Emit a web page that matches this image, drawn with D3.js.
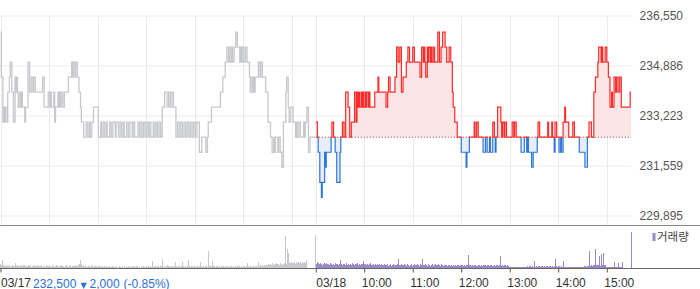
<!DOCTYPE html>
<html>
<head>
<meta charset="utf-8">
<script src="https://cdn.jsdelivr.net/npm/d3@7"></script>
<style>
  body { margin: 0; background: #fff; }
  svg { display: block; font-family: "Liberation Sans", Arial, sans-serif; }
</style>
</head>
<body>
<svg id="chart" width="700" height="289"></svg>
<script>
// ---- data ----
const prevClose = 232500;
const priceTicks = [229895, 231559, 233223, 234886, 236550];
const dayLabels = ['03/17', '03/18'];
const hourLabels = ['10:00', '11:00', '12:00', '13:00', '14:00', '15:00'];
const lastPrice = '232,500';
const lastChange = '2,000';
const lastRate = '(-0.85%)';

// [분(09:00 기준), 가격] : 가격이 바뀌는 시점
const steps0317 = [[0,236000],[1,234500],[3,233000],[4,233500],[5,233000],[6,233500],[8,233000],[9,234000],[11,234500],[12,235000],[14,234000],[16,233000],[18,234500],[19,234000],[20,234500],[21,234000],[22,233500],[24,234000],[25,233500],[26,234000],[27,233500],[30,233000],[31,233500],[34,235000],[36,234000],[38,234500],[40,234000],[41,234500],[43,234000],[52,234500],[54,233500],[59,234000],[61,233500],[62,234000],[63,233500],[66,234000],[67,233000],[68,233500],[71,234000],[72,233500],[73,234000],[74,233500],[75,234000],[77,233500],[79,234000],[84,234500],[88,235000],[89,234500],[90,235000],[92,234500],[93,235000],[95,234500],[97,234000],[99,233500],[100,233000],[103,232500],[106,233000],[108,232500],[110,233000],[111,232500],[113,233000],[115,233500],[121,232500],[124,233000],[125,232500],[127,233000],[129,232500],[131,233000],[132,232500],[135,233000],[137,232500],[139,233000],[142,232500],[143,233000],[146,232500],[148,233000],[150,232500],[152,233000],[153,232500],[156,233000],[158,232500],[160,233000],[163,232500],[164,233000],[166,232500],[170,233000],[172,232500],[174,233000],[175,232500],[177,233000],[179,232500],[181,233000],[183,232500],[184,233000],[186,232500],[189,233000],[190,232500],[192,233000],[194,232500],[196,233000],[198,232500],[200,233500],[203,234000],[206,233500],[208,234000],[210,233500],[212,234000],[214,233500],[217,232500],[219,233000],[221,232500],[223,233000],[225,232500],[227,233000],[229,232500],[231,233000],[233,232500],[235,233000],[237,232500],[239,233000],[241,232500],[243,233000],[246,232000],[249,232500],[254,232000],[256,232500],[257,233000],[261,233500],[272,234000],[275,234500],[278,235000],[280,235500],[282,235000],[283,235500],[284,235000],[286,235500],[287,235000],[289,235500],[291,236000],[293,235500],[296,235000],[297,235500],[298,235000],[299,235500],[301,235000],[303,235500],[305,235000],[308,234500],[309,234000],[310,234500],[312,234000],[313,234500],[314,234000],[315,234500],[319,235000],[321,234500],[322,235000],[324,234500],[328,234000],[331,233000],[334,232500],[336,232000],[338,232500],[339,232000],[340,232500],[343,232000],[344,232500],[346,232000],[348,231500],[350,233000],[353,234000],[354,234500],[356,233500],[357,233000],[359,233500],[362,233000],[365,232500],[366,233000],[367,232500],[369,233000],[371,232500],[375,233000],[376,232500],[377,233000],[379,233500],[381,232000],[383,232500],[390,232500]];

const steps0318 = [[0,233000],[2,232500],[3,232000],[5,231000],[7,230500],[8,231000],[11,232000],[12,231500],[13,232000],[19,232500],[20,233000],[22,232500],[24,232000],[26,231000],[30,232000],[31,232500],[33,233000],[35,232500],[37,234000],[40,233500],[42,232500],[44,233000],[48,234000],[50,233000],[51,234000],[52,233500],[53,234000],[54,233500],[56,234000],[57,233500],[58,234000],[59,233500],[61,234000],[62,233500],[63,234000],[65,233500],[66,234000],[67,233500],[73,234000],[77,234500],[78,234000],[87,233500],[89,234000],[90,234500],[92,234000],[98,234500],[100,235500],[102,235000],[104,235500],[106,234000],[108,234500],[112,235000],[114,235500],[116,235000],[120,235500],[122,235000],[129,234500],[131,235500],[133,235000],[134,235500],[135,235000],[136,234500],[138,235500],[139,235000],[140,235500],[142,235000],[143,235500],[144,235000],[146,235500],[147,235000],[151,236000],[153,235000],[155,235500],[157,236000],[160,235500],[162,235000],[165,235500],[167,235000],[169,234000],[170,233500],[172,233000],[175,232500],[180,232000],[186,231500],[187,232000],[190,232500],[196,233000],[197,232500],[199,233000],[201,232500],[207,232000],[210,232500],[212,232000],[215,232500],[216,232000],[219,233000],[221,232500],[222,232000],[223,232500],[225,233500],[229,233000],[230,232500],[231,233000],[233,232500],[234,233000],[236,232500],[243,233000],[245,232500],[246,233000],[248,232500],[254,232000],[258,232500],[261,232000],[262,232500],[263,232000],[267,231500],[269,232000],[274,232500],[275,233000],[277,232500],[287,233000],[288,232500],[292,233000],[293,232500],[295,232000],[296,233000],[298,232500],[301,232000],[303,232500],[304,232000],[306,233000],[308,233500],[309,233000],[313,232500],[318,233000],[320,232500],[326,232000],[333,231500],[336,232500],[338,233000],[341,232500],[344,234000],[346,234500],[349,235000],[350,235500],[353,235000],[354,235500],[355,235000],[358,235500],[360,235000],[362,234500],[364,233500],[366,234000],[367,233500],[369,234500],[371,234000],[372,234500],[374,234000],[376,234500],[378,233500],[389,234000],[390,234000]];

// 분당 거래량 (36진수 한 글자 = 1분), 마지막 값은 15:30 종가 단일가
const volume0317 = ('4382322322 2312232252 2322123232 3221232312 2232213222 2312221322 2221322123 2312223221 2232122312 2213223248 ' +
  '4223122212 2122312212 1221212112 1210121121 2112101211 1201211121 1112012121 2110121211 1212112171 2121212122 ' +
  '9212121322 1212126121 2121260212 1208212121 2121212612 1212121h21 2272121212 1212122121 2121212121 1212212121 ' +
  '2121215212 1212121216 2232322323 3443434534 4354434543 45w54jf545 6545646556 5645656580 0000000000');
const volume0318 = ('5463545434 3545434353 4343534434 8343434353 3434353434 4353434347 4343434353 3423432434 3432343234 2343234323 ' +
  '3493234323 4323432343 2343234323 4393234323 4323432343 2343234323 3232323232 2323232323 323232323d 3232323232 ' +
  '2323232323 3232323232 23232323c3 2323232322 1111111111 1111111111 1121212121 7212121212 1212121212 1212129121 ' +
  '2121217111 1111111111 1111111111 112121212h 232323j323 3c23e3f323 1111111116 1111151116 0000000000');
const closeVolume = [33, 36];

// ---- layout ----
const SESSION = 390;
const svg = d3.select('#chart');
const x = d3.scaleLinear().domain([0, 2 * SESSION]).range([0.5, 631]);
const y = d3.scaleLinear().domain([priceTicks[0], priceTicks[priceTicks.length - 1]]).range([215.5, 15.5]);
const yv = d3.scaleLinear().domain([0, 42]).range([268, 226]);
const baseY = y(prevClose);

const up = '#ff2b2b', down = '#2c74d8', grey = '#c6c8cc', purple = '#9c88c8';

// 가로 그리드 + 가격 라벨
const yAxis = svg.append('g')
  .attr('transform', 'translate(631,0)')
  .call(d3.axisLeft(y).tickValues(priceTicks).tickSize(631).tickFormat(d3.format(',')));
yAxis.select('.domain').remove();
yAxis.selectAll('line').attr('stroke', '#ebebeb');
yAxis.selectAll('text')
  .attr('x', 52).attr('text-anchor', 'end')
  .attr('fill', '#555').style('font-size', '12px');

// 세로 그리드 (매 시 정각)
const hours = d3.range(2).flatMap(d => d3.range(7).map(h => d * SESSION + h * 60));
svg.append('g').selectAll('line').data(hours).join('line')
  .attr('x1', d => Math.round(x(d)) + 0.5).attr('x2', d => Math.round(x(d)) + 0.5)
  .attr('y1', y.range()[1]).attr('y2', 225)
  .attr('stroke', '#ebebeb');

// 03/17 가격선
const toPts = (steps, day) => steps.map(([m, p]) => [day * SESSION + m, p]);
const line = d3.line().curve(d3.curveStepAfter).x(d => x(d[0])).y(d => y(d[1]));
const area = d3.area().curve(d3.curveStepAfter).x(d => x(d[0])).y0(baseY).y1(d => y(d[1]));

svg.append('path').datum(toPts(steps0317, 0))
  .attr('d', line).attr('fill', 'none')
  .attr('stroke', grey).attr('stroke-width', 1.3);

// 03/18 가격선 (기준가 위 빨강, 아래 파랑)
const defs = svg.append('defs');
defs.append('clipPath').attr('id', 'clipUp').append('rect')
  .attr('x', 0).attr('y', 0).attr('width', 700).attr('height', baseY + 0.8);
defs.append('clipPath').attr('id', 'clipDown').append('rect')
  .attr('x', 0).attr('y', baseY + 0.8).attr('width', 700).attr('height', 225 - baseY);

const pts0318 = toPts(steps0318, 1);
svg.append('path').datum(pts0318).attr('d', area)
  .attr('fill', '#fde5e6').attr('clip-path', 'url(#clipUp)');
svg.append('path').datum(pts0318).attr('d', area)
  .attr('fill', '#e6eefb').attr('clip-path', 'url(#clipDown)');

svg.append('line')
  .attr('x1', x(SESSION)).attr('x2', 631)
  .attr('y1', baseY).attr('y2', baseY)
  .attr('stroke', '#555').attr('stroke-dasharray', '1,2');

svg.append('path').datum(pts0318).attr('d', line)
  .attr('fill', 'none').attr('stroke', up).attr('stroke-width', 1.2)
  .attr('clip-path', 'url(#clipUp)');
svg.append('path').datum(pts0318).attr('d', line)
  .attr('fill', 'none').attr('stroke', down).attr('stroke-width', 1.2)
  .attr('clip-path', 'url(#clipDown)');

// 패널 구분선
svg.append('line').attr('x1', 0).attr('x2', 700).attr('y1', 225.5).attr('y2', 225.5)
  .attr('stroke', '#888');

// 거래량
const parseVol = (s, close) => s.replace(/\s/g, '').split('').map(c => parseInt(c, 36)).concat([close]);
const vols = [
  {day: 1, color: purple, v: parseVol(volume0318, closeVolume[1])},
  {day: 0, color: grey, v: parseVol(volume0317, closeVolume[0])}
];
vols.forEach(({day, color, v}) => {
  svg.append('g').attr('shape-rendering', 'crispEdges')
    .selectAll('rect').data(v.map((d, i) => [day * SESSION + i, d]).filter(d => d[1] > 0)).join('rect')
    .attr('x', d => Math.floor(x(d[0])))
    .attr('width', 1)
    .attr('y', d => yv(d[1]))
    .attr('height', d => yv(0) - yv(d[1]))
    .attr('fill', color);
});

// 범례
svg.append('rect').attr('x', 652.5).attr('y', 233).attr('width', 3).attr('height', 8).attr('fill', purple);
svg.append('text').attr('x', 657).attr('y', 241)
  .style('font-family', '"Noto Sans CJK KR", sans-serif').style('font-size', '11.5px')
  .attr('fill', '#444').text('거래량');

// 시간축
const tickTimes = [0, SESSION].concat(hourLabels.map((d, i) => SESSION + (i + 1) * 60));
const tickText = dayLabels.concat(hourLabels);
const xAxis = svg.append('g').attr('transform', 'translate(0,268.5)')
  .call(d3.axisBottom(x).tickValues(tickTimes).tickSize(4).tickPadding(6)
    .tickFormat((d, i) => tickText[i]));
xAxis.select('.domain').remove();
xAxis.selectAll('line').attr('stroke', '#555');
xAxis.selectAll('text')
  .attr('text-anchor', 'start')
  .attr('dx', (d, i) => i < 2 ? 0 : -3)
  .attr('fill', '#333').style('font-size', '12px');
svg.append('line').attr('x1', 0).attr('x2', 700).attr('y1', 268.5).attr('y2', 268.5).attr('stroke', '#666');

// 전일 종가 정보
const info = svg.append('text').attr('x', 33).attr('y', 287.5)
  .attr('fill', '#2c6fd6').style('font-size', '12px');
info.append('tspan').text(lastPrice);
info.append('tspan').attr('dx', 4).style('font-size', '8px').style('font-family', '"DejaVu Sans", sans-serif').text('▼');
info.append('tspan').attr('dx', 3).text(lastChange);
info.append('tspan').attr('dx', 4).text(lastRate);
</script>
</body>
</html>
